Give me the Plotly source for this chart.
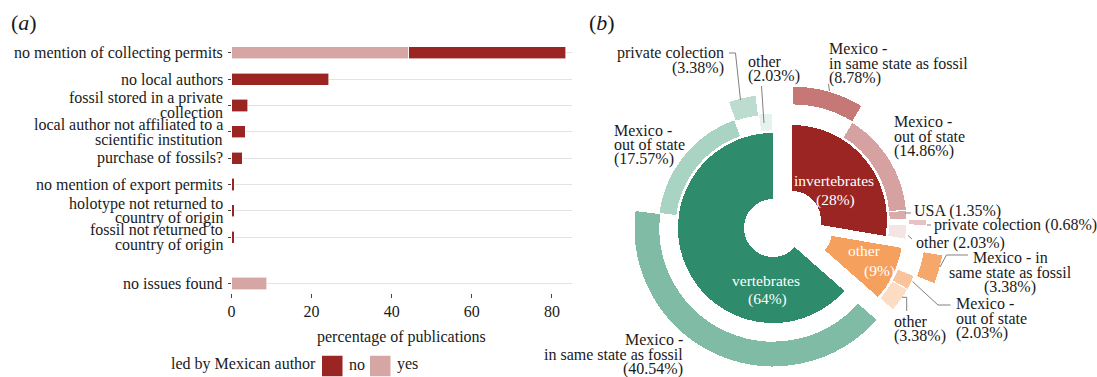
import plotly.graph_objects as go

W, H = 1097, 377
SERIF = '"Liberation Serif", "DejaVu Serif", serif'
INK = "#1a1a1a"
LEADER = "#808080"

# ---------------- panel (a) data ----------------
issues = [
    "no mention of collecting permits",
    "no local authors",
    "fossil stored in a private<br>collection",
    "local author not affiliated to a<br>scientific institution",
    "purchase of fossils?",
    "no mention of export permits",
    "holotype not returned to<br>country of origin",
    "fossil not returned to<br>country of origin",
    "no issues found",
]
pct_led_no = [39.3, 24.3, 4.05, 3.38, 2.70, 0.68, 0.68, 0.68, None]
pct_led_yes = [44.2, None, None, None, None, None, None, None, 8.78]
legend_title = "led by Mexican author"
legend_names = ["no", "yes"]
x_ticks = [0, 20, 40, 60, 80]
x_title = "percentage of publications"

# ---------------- panel (b) data ----------------
groups = ["invertebrates", "other", "vertebrates"]
group_share = [28, 9, 64]
inv_places = ["Mexico - in same state as fossil", "Mexico - out of state", "USA",
              "private colection", "other"]
inv_pct = [8.78, 14.86, 1.35, 0.68, 2.03]
oth_places = ["Mexico - in same state as fossil", "Mexico - out of state", "other"]
oth_pct = [3.38, 2.03, 3.38]
vert_places = ["Mexico - in same state as fossil", "Mexico - out of state",
               "private colection", "other"]
vert_pct = [40.54, 17.57, 3.38, 2.03]

# ---------------- styles ----------------
DARK = "#9b2523"
PINK = "#d6a6a5"
inner_cols = ["#9b2523", "#f6a05d", "#2e8b6b"]
ring_cols = [
    ["#c67877", "#d5a2a1", "#d9abab", "#e6c2c2", "#f5e4e4"],
    ["#f6a86c", "#f9c49c", "#fcdcc3"],
    ["#80bca5", "#a9d3c3", "#bcdccf", "#e5f2ed"],
]
# geometry of the exploded donut (pixels)
centers = [(792, 220), (803, 231), (773, 228)]
inner_R = [95, 100, 95]
HOLE = 29
RMAX = 145
ring_levels = [
    [(115, 134), (97, 115), (97, 115), (116, 135), (97, 115)],
    [(122, 142), (102, 120), (102, 120)],
    [(113, 139), (97, 115), (113, 134), (97, 115)],
]
# outer label layout: (mode, x, first-line y, anchor)
label_layout = [
    [("stack", 826.7, 48.3, "left"), ("stack", 891.7, 121.7, "left"),
     ("one", 911.7, 210.7, "left"), ("one", 932, 225, "left"),
     ("one", 914.3, 242.7, "left")],
    [("stack_in", 1010, 257.7, "center"), ("stack", 954, 303.3, "left"),
     ("stack", 891.7, 321.7, "left")],
    [("stack", 685, 339.3, "right"), ("stack", 611.7, 130, "left"),
     ("stack", 726, 53.3, "right"), ("stack", 745.7, 61.7, "left")],
]
inner_label_pos = [((834, 180), (835, 200)), ((864, 251), (879, 271)),
                   ((766, 280), (767.5, 298.5))]
leaders = [
    [(729, 53), (735.5, 53), (740.5, 100)],
    [(761.5, 86), (764, 123)],
    [(828.5, 84), (829.5, 91)],
    [(905, 213), (911, 213)],
    [(927, 225), (931, 225)],
    [(908, 235.5), (912, 239)],
    [(940, 267), (946.5, 255), (968, 255)],
    [(912.5, 281.5), (938, 305), (950.5, 305)],
    [(902, 297.3), (906.7, 297.3), (906.7, 311)],
]
LINE_STEP = 14.7
# manual legend layout (pixels)
LEG_Y = 364
LEG_TITLE_X = 168.5
LEG_KEYS_X = [322, 370]
LEG_KEY = 20.5


def fx(x):
    return x / W


def fy(y):
    return 1 - y / H


def txt(text, x, y, anchor="left", size=16, color=INK, xref="paper", yref="paper"):
    return dict(text=text, x=x, y=y, xref=xref, yref=yref, xanchor=anchor,
                yanchor="middle", showarrow=False,
                font=dict(family=SERIF, size=size, color=color))


fig = go.Figure()
annotations = []
shapes = []

# ---------------- panel (a) ----------------
X0_PX, X85_PX = 231.5, 572
ROW0_PX, ROW_STEP = 52.7, 26.37
y_top, y_bot = -0.45, 9.11

row_pos = list(range(len(issues)))
row_pos[-1] += 0.75  # separated "no issues found" row

fig.add_trace(go.Bar(x=pct_led_yes, y=row_pos, orientation="h", width=0.46,
                     marker=dict(color=PINK, line=dict(color="white", width=0.6)),
                     showlegend=False, name="yes"))
fig.add_trace(go.Bar(x=pct_led_no, y=row_pos, orientation="h", width=0.46,
                     marker=dict(color=DARK, line=dict(color="white", width=0.6)),
                     showlegend=False, name="no"))

# category labels, one text per line (tight line height as in the original)
for pos, lab in zip(row_pos, issues):
    lines = lab.split("<br>")
    n = len(lines)
    for i, ln in enumerate(lines):
        off = (i - (n - 1) / 2) * LINE_STEP / ROW_STEP
        annotations.append(txt(ln, fx(225), pos + off, anchor="right", yref="y"))
annotations.append(txt(x_title, 42.5, fy(337), anchor="center", xref="x"))

# legend (drawn by hand to reproduce ggplot's key sizes)
annotations.append(txt(legend_title, fx(LEG_TITLE_X), fy(LEG_Y)))
for nm, col, kx in zip(legend_names, [DARK, PINK], LEG_KEYS_X):
    shapes.append(dict(type="rect", xref="paper", yref="paper",
                       x0=fx(kx), x1=fx(kx + LEG_KEY),
                       y0=fy(LEG_Y + 2 + LEG_KEY / 2), y1=fy(LEG_Y + 2 - LEG_KEY / 2),
                       fillcolor=col, line=dict(width=0)))
    annotations.append(txt(nm, fx(kx + LEG_KEY + 4), fy(LEG_Y)))

# ---------------- panel (b) ----------------
group_places = [inv_places, oth_places, vert_places]
group_pcts = [inv_pct, oth_pct, vert_pct]
total = sum(sum(p) for p in group_pcts)
deg = 360.0 / total
polar_layouts = {}
start = 0.0
for k, (g, places, pcts) in enumerate(zip(groups, group_places, group_pcts)):
    pid = "polar" if k == 0 else f"polar{k + 1}"
    span = sum(pcts) * deg
    fig.add_trace(go.Barpolar(theta=[start + span / 2], width=[span], base=[HOLE],
                              r=[inner_R[k] - HOLE], subplot=pid, name=g,
                              marker=dict(color=inner_cols[k], line=dict(width=0)),
                              showlegend=False))
    th, wd, bs, rr = [], [], [], []
    a = start
    for p, (b, t) in zip(pcts, ring_levels[k]):
        w = p * deg
        th.append(a + w / 2)
        wd.append(w)
        bs.append(b)
        rr.append(t - b)
        a += w
    fig.add_trace(go.Barpolar(theta=th, width=wd, base=bs, r=rr, subplot=pid,
                              text=places, name=g,
                              marker=dict(color=ring_cols[k],
                                          line=dict(color="white", width=1.2)),
                              showlegend=False))
    start += span
    cx, cy = centers[k]
    polar_layouts[pid] = dict(
        domain=dict(x=[fx(cx - RMAX), fx(cx + RMAX)], y=[fy(cy + RMAX), fy(cy - RMAX)]),
        bgcolor="rgba(0,0,0,0)", barmode="overlay", hole=0,
        radialaxis=dict(visible=False, range=[0, RMAX]),
        angularaxis=dict(visible=False, rotation=90, direction="clockwise"),
    )
    # inner labels
    (nx, ny), (qx, qy) = inner_label_pos[k]
    annotations.append(txt(g, fx(nx), fy(ny), anchor="center", size=15.5, color="white"))
    annotations.append(txt(f"({group_share[k]}%)", fx(qx), fy(qy), anchor="center",
                           size=15.5, color="white"))
    # outer labels
    for name, p, (mode, x, y0, anch) in zip(places, pcts, label_layout[k]):
        pct_txt = f"({p:.2f}%)"
        if mode == "one":
            lines = [f"{name} {pct_txt}"]
        elif mode == "stack_in":
            head, rest = name.split(" - ", 1)
            first, rest2 = rest.split(" ", 1)
            lines = [f"{head} - {first}", rest2, pct_txt]
        elif " - " in name:
            head, rest = name.split(" - ", 1)
            lines = [f"{head} -", rest, pct_txt]
        else:
            lines = [name, pct_txt]
        for i, ln in enumerate(lines):
            annotations.append(txt(ln, fx(x), fy(y0 + i * LINE_STEP), anchor=anch))

for pts in leaders:
    path = "M " + " L ".join(f"{fx(x):.5f},{fy(y):.5f}" for x, y in pts)
    shapes.append(dict(type="path", path=path, xref="paper", yref="paper",
                       line=dict(color=LEADER, width=1)))

# panel titles
for t, x in [("(<i>a</i>)", 9), ("(<i>b</i>)", 587)]:
    annotations.append(txt(t, fx(x), fy(22.5), size=22))

fig.update_layout(
    template="none",
    width=W, height=H,
    margin=dict(l=0, r=0, t=0, b=0),
    paper_bgcolor="white", plot_bgcolor="white",
    font=dict(family=SERIF, size=16, color=INK),
    barmode="stack",
    showlegend=False,
    xaxis=dict(domain=[fx(X0_PX), fx(X85_PX)], range=[0, 85], tickvals=x_ticks,
               showgrid=False, zeroline=False, showline=False, ticks="outside",
               ticklen=4, tickwidth=1, tickcolor="#444", automargin=False,
               tickfont=dict(family=SERIF, size=16, color=INK)),
    yaxis=dict(domain=[fy(ROW0_PX + ROW_STEP * y_bot), fy(ROW0_PX + ROW_STEP * y_top)],
               range=[y_bot, y_top], tickvals=row_pos, showticklabels=False,
               showgrid=True, gridcolor="#e3e3e3", gridwidth=1.2, zeroline=False,
               showline=False, ticks="outside", ticklen=3, tickwidth=1,
               tickcolor="#444", automargin=False),
    annotations=annotations,
    shapes=shapes,
    **polar_layouts,
)

fig.write_html("out.html")
